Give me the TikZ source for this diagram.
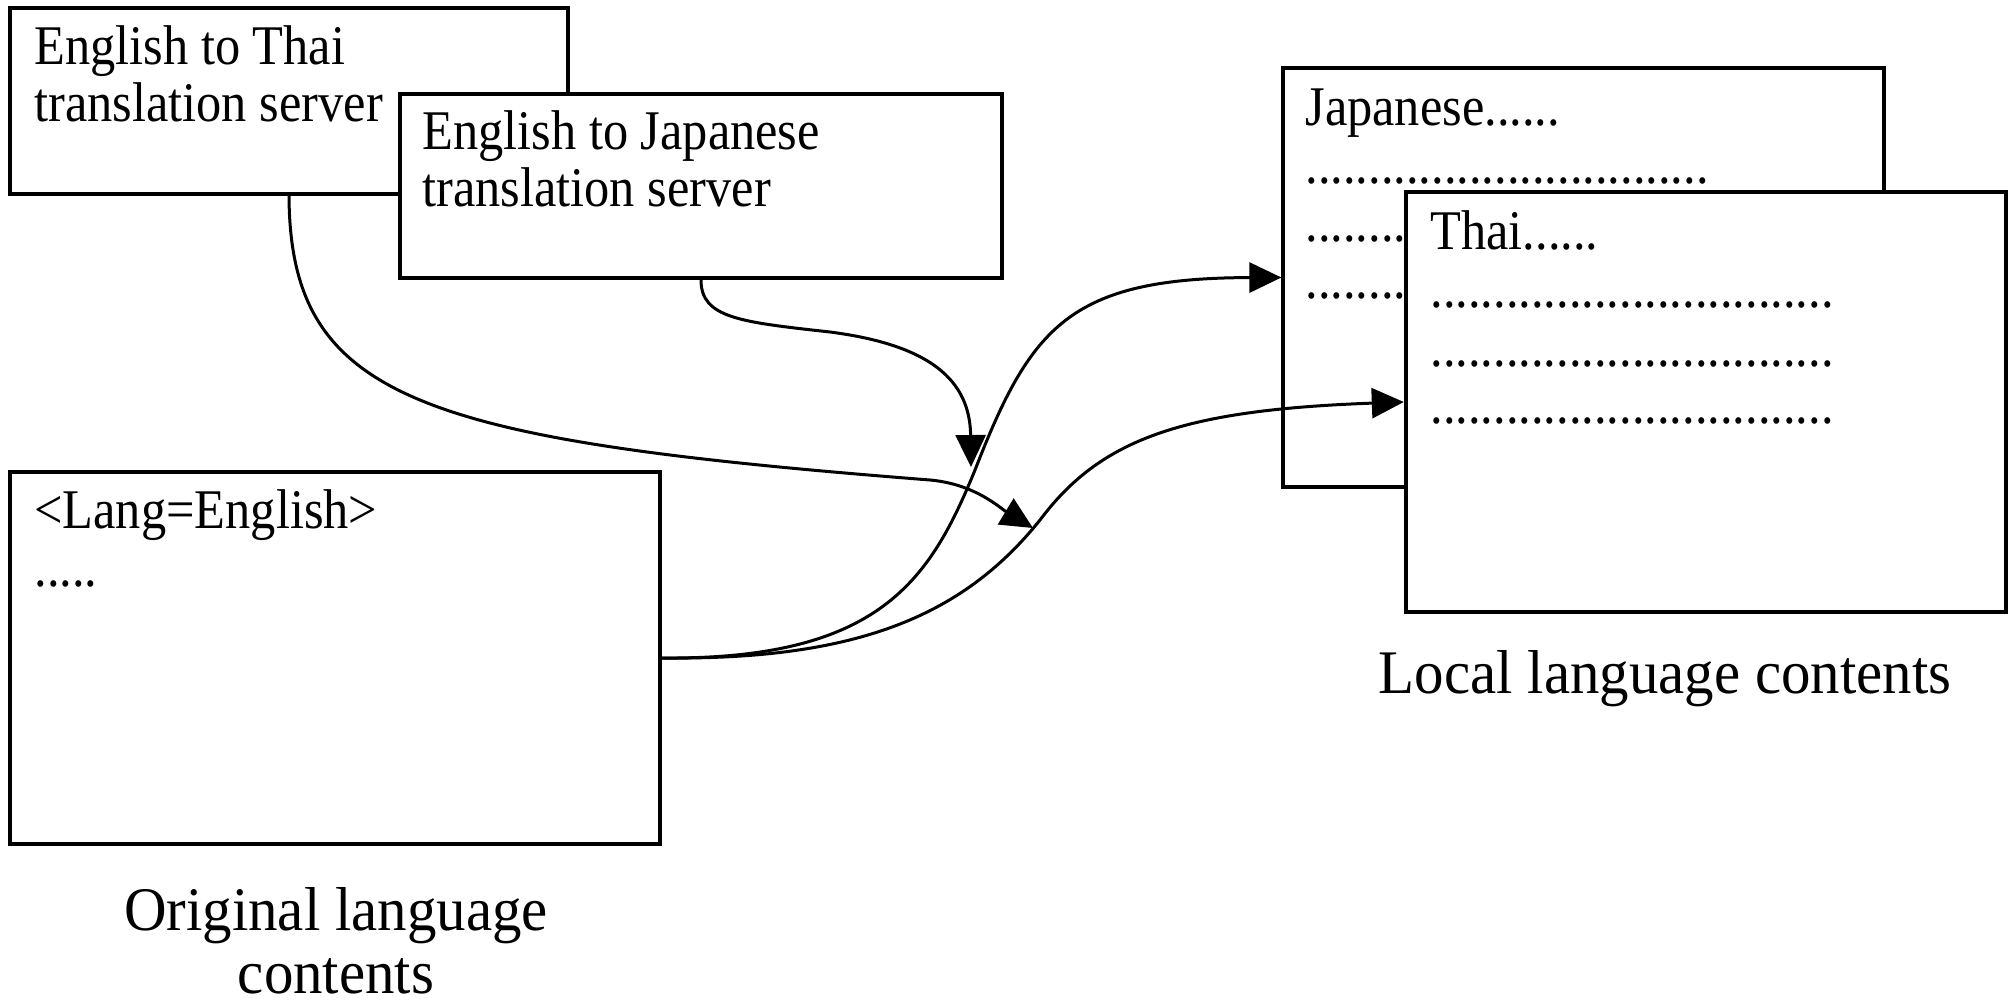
\documentclass[tikz,border=0pt]{standalone}
\usepackage{fontspec}
\setmainfont{Liberation Serif}[FakeStretch=0.9]
\newfontfamily\labelfont{Liberation Serif}[FakeStretch=0.95]
\usetikzlibrary{arrows.meta}
\begin{document}
\begin{tikzpicture}[x=0.5pt,y=-0.5pt,
  box/.style={draw,fill=white,rectangle,inner sep=0pt,line width=1.6pt},
  txt/.style={anchor=base west,inner sep=0pt,font=\fontsize{28pt}{34pt}\selectfont},
  lbl/.style={anchor=base,inner sep=0pt,font=\labelfont\fontsize{31pt}{37pt}\selectfont},
  conn/.style={line width=1.5pt,-{Triangle[length=16pt,width=15pt]}}]
\fill[white] (0,0) rectangle (2011,1005);
\useasboundingbox (0,0) rectangle (2011,1005);
% translation servers
\node[box,minimum width=279pt,minimum height=93pt] (ts) at (289,101) {};
\node[txt] (ts1) at (34,65) {English to Thai};
\node[txt] (ts2) at (34,122) {translation server};
\node[box,line width=2pt,minimum width=301pt,minimum height=92pt] (js) at (701,186) {};
\node[txt] (js1) at (422,150) {English to Japanese};
\node[txt] (js2) at (422,207) {translation server};
% original contents
\node[box,minimum width=325pt,minimum height=186pt] (orig) at (335,658) {};
\node[txt] (o1) at (34,528) {<Lang=English>};
\node[txt] (o2) at (34,586) {.....};
\node[lbl] (ol1) at (336,930) {Original language};
\node[lbl] (ol2) at (336,993) {contents};
% local contents
\node[box,minimum width=300.5pt,minimum height=209.5pt] (jc) at (1583.5,277.5) {};
\node[txt] (j1) at (1305,126) {Japanese......};
\node[txt] (j2) at (1305,184) {................................};
\node[txt] (j3) at (1305,242) {................................};
\node[txt] (j4) at (1305,299) {................................};
\node[box,line width=2.2pt,minimum width=300pt,minimum height=210pt] (tc) at (1706,402) {};
\node[txt] (t1) at (1430,250) {Thai......};
\node[txt] (t2) at (1430,308) {................................};
\node[txt] (t3) at (1430,366) {................................};
\node[txt] (t4) at (1430,423) {................................};
\node[lbl] (ll) at (1665,693) {Local language contents};
% connectors
\coordinate (a1end) at (1033,528);
\coordinate (a2end) at (971,467);
\draw[conn] (ts.south) .. controls (290,400) and (420,440) .. (930,480)
  .. controls (975,484) and (1000,508) .. (a1end);
\draw[conn] (js.south) .. controls (701,318) and (740,322) .. (830,332)
  .. controls (930,345) and (970,380) .. (a2end);
\draw[conn] (orig.east) .. controls (880,660) and (930,580) .. (975,470)
  .. controls (1031,326) and (1070,278) .. (jc.west);
\draw[conn] (orig.east) .. controls (850,660) and (960,620) .. (1040,520)
  .. controls (1100,440) and (1180,410) .. (tc.west);
\end{tikzpicture}
\end{document}
